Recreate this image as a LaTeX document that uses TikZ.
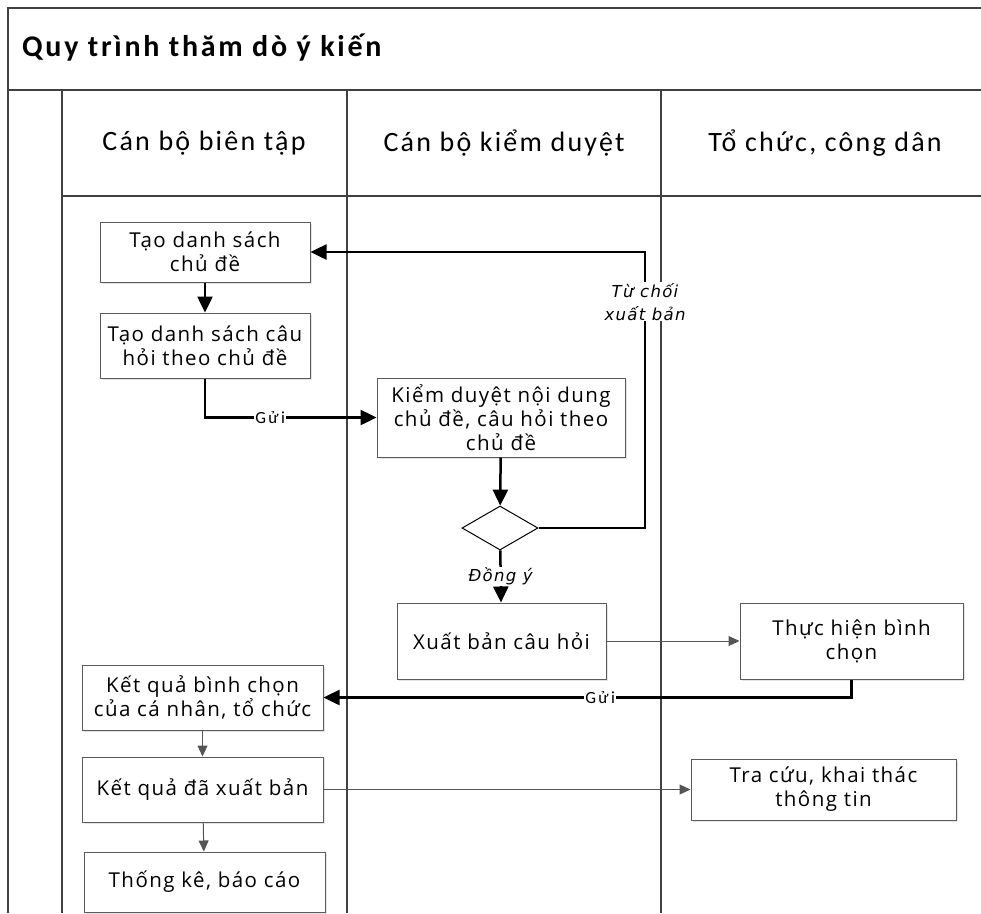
\documentclass[tikz,border=0pt]{standalone}
\usepackage{fontspec}
\setmainfont{Open Sans}[LetterSpace=7]
\newfontfamily\hdrfont{Carlito}[LetterSpace=8]
\newfontfamily\titlefont{Carlito}[LetterSpace=9]
\newfontfamily\gfont{Carlito}[LetterSpace=14]
\newfontfamily\lblfont{DejaVu Sans}[LetterSpace=8]
\usetikzlibrary{arrows.meta,shapes.geometric,shadows}
\definecolor{lanecol}{HTML}{404040}
\definecolor{boxcol}{HTML}{5A5A5A}
\definecolor{thincol}{HTML}{555555}
\tikzset{
  laneline/.style={draw=lanecol, line width=2pt},
  procbox/.style={draw=boxcol, line width=1pt, fill=white, align=center, inner sep=0pt,
    font=\fontsize{20.5}{24}\selectfont,
    drop shadow={shadow xshift=2pt, shadow yshift=-2pt, fill=black!10, opacity=1}},
  lanehdr/.style={font=\hdrfont\fontsize{28}{30}\selectfont, inner sep=0pt},
  decision/.style={diamond, draw=black, line width=1pt, fill=white, inner sep=0pt, aspect=1.75},
  thickarrow/.style={draw=black, line width=2.5pt, -{Triangle[length=16pt,width=15pt]}},
  thinarrow/.style={draw=thincol, line width=1pt, -{Triangle[length=11pt,width=10pt]}},
  edgelbl/.style={fill=white, inner sep=1pt, font=\gfont\fontsize{17}{18}\selectfont},
  italbl/.style={fill=white, inner sep=1pt, align=center, font=\lblfont\itshape\fontsize{16.5}{23}\selectfont},
}
\begin{document}
\begin{tikzpicture}[x=1pt,y=-1pt]
\useasboundingbox (0,0) rectangle (981,913);
% frame and lanes
\draw[laneline] (8,913) -- (8,8) -- (981,8);
\draw[laneline] (8,90) -- (981,90);
\draw[laneline] (62,90) -- (62,913);
\draw[laneline] (347,90) -- (347,913);
\draw[laneline] (661,90) -- (661,913);
\draw[laneline] (62,196) -- (981,196);
\node[anchor=west, font=\titlefont\bfseries\fontsize{30}{32}\selectfont, inner sep=0pt] (title) at (22,48) {Quy trình thăm dò ý kiến};
\node[lanehdr] (h1) at (204,143) {Cán bộ biên tập};
\node[lanehdr] (h2) at (504,143) {Cán bộ kiểm duyệt};
\node[lanehdr] (h3) at (825,143) {Tổ chức, công dân};
% boxes
\node[procbox, minimum width=210pt, minimum height=60pt] (b1) at (205,252) {Tạo danh sách\\chủ đề};
\node[procbox, minimum width=210pt, minimum height=65pt] (b2) at (205,345.5) {Tạo danh sách câu\\hỏi theo chủ đề};
\node[procbox, minimum width=248pt, minimum height=79pt] (b3) at (501,417.5) {Kiểm duyệt nội dung\\chủ đề, câu hỏi theo\\chủ đề};
\node[decision, minimum width=76pt, minimum height=44pt] (d) at (500,528) {};
\node[procbox, minimum width=209pt, minimum height=76pt] (b5) at (501.5,641) {Xuất bản câu hỏi};
\node[procbox, minimum width=223pt, minimum height=76pt] (b6) at (851.5,641) {Thực hiện bình\\chọn};
\node[procbox, minimum width=241pt, minimum height=65pt] (b7) at (202.5,697.5) {Kết quả bình chọn\\của cá nhân, tổ chức};
\node[procbox, minimum width=241pt, minimum height=65pt] (b8) at (202.5,789.5) {Kết quả đã xuất bản};
\node[procbox, minimum width=265pt, minimum height=61pt] (b9) at (823.5,789.5) {Tra cứu, khai thác\\thông tin};
\node[procbox, minimum width=241pt, minimum height=60pt] (b10) at (204.5,882) {Thống kê, báo cáo};
\coordinate (rj) at (645,528);
% connectors
\draw[thickarrow] (b1) -- (b2);
\draw[thickarrow] (b2.south) |- node[edgelbl, pos=0.69] {Gửi} (b3.west);
\draw[thickarrow] (b3) -- (d);
\draw[thickarrow] (d.east) -- (rj) |- node[italbl, pos=0.41] {Từ chối\\xuất bản} (b1.east);
\draw[thickarrow] (d) -- node[italbl] {Đồng ý} (b5);
\draw[thinarrow] (b5) -- (b6);
\draw[thickarrow] (b6.south) |- node[edgelbl, pos=0.738] {Gửi} (b7.east);
\draw[thinarrow] (b7) -- (b8);
\draw[thinarrow] (b8) -- (b9);
\draw[thinarrow] (b8) -- (b10);
\end{tikzpicture}
\end{document}
